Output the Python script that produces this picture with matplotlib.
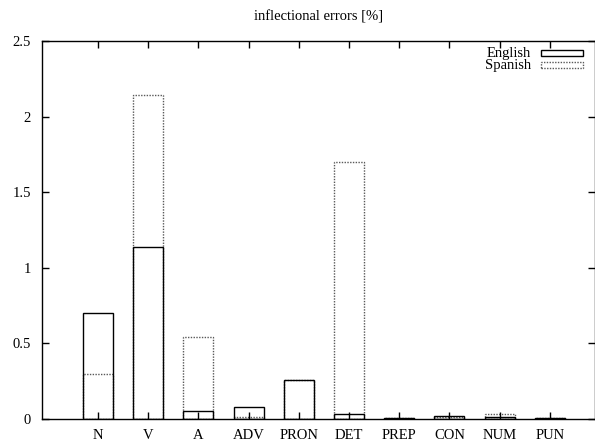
import numpy as np
import matplotlib.pyplot as plt
from matplotlib.patches import Rectangle

plt.rcParams['font.family'] = 'Liberation Serif'
plt.rcParams['font.size'] = 10.5

# part-of-speech categories
categories = ['N', 'V', 'A', 'ADV', 'PRON', 'DET', 'PREP', 'CON', 'NUM', 'PUN']

# inflectional errors [%]
english = [0.70, 1.14, 0.05, 0.08, 0.26, 0.03, 0.005, 0.02, 0.01, 0.005]
spanish = [0.30, 2.14, 0.54, 0.01, 0.26, 1.70, 0.005, 0.01, 0.03, 0.005]

x = np.arange(len(categories))
w = 0.6
W, H = 595, 441

fig = plt.figure(figsize=(W/100, H/100), dpi=100)
ax = fig.add_axes([42/W, 22/H, 1 - 42/W, 378/H])

ax.bar(x, spanish, width=w, fill=False, edgecolor='0.35',
       linestyle=(0, (1, 1)), linewidth=1.0)
ax.bar(x, english, width=w, fill=False, edgecolor='black', linewidth=1.0)

ax.set_xlim(-1.115, 9.9)
ax.set_ylim(0, 2.5)
ax.set_xticks(x)
ax.set_xticklabels(categories)
ax.set_yticks([0, 0.5, 1, 1.5, 2, 2.5])
ax.set_yticklabels(['0', '0.5', '1', '1.5', '2', '2.5'])
ax.tick_params(direction='in', length=5, width=1, top=True, right=True)
ax.tick_params(axis='y', pad=8)
ax.tick_params(axis='x', pad=7)
for s in ax.spines.values():
    s.set_linewidth(1.0)

ax.set_title('inflectional errors [%]', pad=15, fontsize=10.5)

# key, gnuplot style: label on the left, sample box on the right
key = [('English', 'black', '-'), ('Spanish', '0.35', (0, (1, 1)))]
for i, (lab, col, ls) in enumerate(key):
    yc = 53 + 12*i
    fig.text(531/W, 1 - yc/H, lab, ha='right', va='center')
    fig.add_artist(Rectangle((541/W, 1 - (yc + 3)/H), 42/W, 6/H, fill=False,
                             edgecolor=col, linestyle=ls, linewidth=1.0,
                             transform=fig.transFigure))

fig.savefig('out.png', dpi=100)
